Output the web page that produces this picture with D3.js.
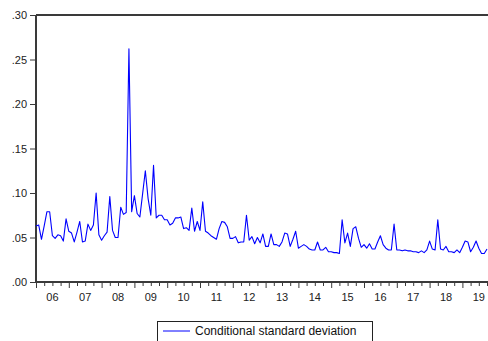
<!DOCTYPE html>
<html>
<head>
<meta charset="utf-8">
<script src="https://cdn.jsdelivr.net/npm/d3@7"></script>
<style>
  body { margin: 0; background: #fff; }
  svg { display: block; }
</style>
</head>
<body>
<svg id="chart" width="488" height="341"></svg>
<script>
// ============= Data =============
const START_YEAR = 2006;
// monthly conditional standard deviation, 2006M01 onwards
const sdValues = [
  0.063, 0.064, 0.048, 0.063, 0.079, 0.079, 0.052, 0.049, 0.053, 0.052, 0.046, 0.071,
  0.057, 0.055, 0.045, 0.056, 0.068, 0.045, 0.046, 0.065, 0.058, 0.064, 0.100, 0.053,
  0.047, 0.052, 0.056, 0.096, 0.058, 0.050, 0.050, 0.084, 0.076, 0.078, 0.262, 0.079,
  0.097, 0.077, 0.073, 0.099, 0.125, 0.094, 0.075, 0.131, 0.072, 0.075, 0.075, 0.070,
  0.070, 0.064, 0.066, 0.072, 0.072, 0.073, 0.060, 0.061, 0.058, 0.083, 0.057, 0.068,
  0.058, 0.090, 0.057, 0.055, 0.052, 0.050, 0.048, 0.060, 0.068, 0.067, 0.062, 0.049,
  0.049, 0.051, 0.044, 0.045, 0.045, 0.075, 0.047, 0.051, 0.043, 0.050, 0.044, 0.054,
  0.040, 0.040, 0.054, 0.042, 0.042, 0.040, 0.045, 0.055, 0.054, 0.040, 0.048, 0.057,
  0.038, 0.040, 0.042, 0.040, 0.037, 0.036, 0.036, 0.045, 0.036, 0.036, 0.039, 0.034,
  0.034, 0.033, 0.033, 0.032, 0.070, 0.044, 0.055, 0.040, 0.060, 0.062, 0.049, 0.039,
  0.042, 0.038, 0.043, 0.037, 0.037, 0.045, 0.052, 0.042, 0.038, 0.036, 0.036, 0.065,
  0.036, 0.036, 0.035, 0.036, 0.035, 0.035, 0.034, 0.034, 0.033, 0.035, 0.033, 0.036,
  0.046, 0.037, 0.036, 0.070, 0.037, 0.036, 0.040, 0.034, 0.034, 0.033, 0.036, 0.033,
  0.039, 0.046, 0.045, 0.034, 0.039, 0.046, 0.038, 0.032, 0.032, 0.037,
];
const yTicks = [0, 0.05, 0.10, 0.15, 0.20, 0.25, 0.30];
const yearLabels = ["06", "07", "08", "09", "10", "11", "12", "13", "14", "15", "16", "17", "18", "19"];
const legendLabel = "Conditional standard deviation";

// ============= Constants =============
const AXIS_COLOR = "#3a3a3a";
const LINE_COLOR = "#0000ff";
const FONT = "'Liberation Sans', Arial, sans-serif";
const FONT_SIZE = "11px";
const PLOT = { LEFT: 36, RIGHT: 488, TOP: 15, BOTTOM: 282 };
const YEAR_WIDTH = 32.8;

const svg = d3.select("#chart");

const points = sdValues.map((v, i) => ({ t: START_YEAR + i / 12, value: v }));

const xScale = d3
  .scaleLinear()
  .domain([START_YEAR, START_YEAR + (PLOT.RIGHT - PLOT.LEFT) / YEAR_WIDTH])
  .range([PLOT.LEFT, PLOT.RIGHT]);
const yScale = d3.scaleLinear().domain([0, 0.3]).range([PLOT.BOTTOM, PLOT.TOP]);

// ============= Frame =============
const frame = svg.append("g").attr("stroke", AXIS_COLOR).attr("fill", "none");
frame.append("line")
  .attr("x1", PLOT.LEFT).attr("x2", PLOT.RIGHT)
  .attr("y1", PLOT.TOP).attr("y2", PLOT.TOP)
  .attr("stroke-width", 2);

// Y axis
const yAxis = svg
  .append("g")
  .attr("transform", `translate(${PLOT.LEFT},0)`)
  .call(d3.axisLeft(yScale).tickValues(yTicks).tickSize(6).tickPadding(3)
    .tickFormat((d) => d3.format(".2f")(d).replace(/^0/, "")));

// X axis: quarterly ticks, longer at year starts
const quarters = d3.range(START_YEAR * 4, 2020 * 4).map((q) => q / 4);
const xAxis = svg
  .append("g")
  .attr("transform", `translate(0,${PLOT.BOTTOM})`)
  .call(d3.axisBottom(xScale).tickValues(quarters).tickSize(4).tickFormat(""));
xAxis.selectAll(".tick line")
  .attr("y2", (d) => (Number.isInteger(d) ? 6 : 4));

[xAxis, yAxis].forEach((axis) => {
  axis.select(".domain").attr("stroke", AXIS_COLOR).attr("stroke-width", 2);
  axis.selectAll(".tick line").attr("stroke", AXIS_COLOR).attr("stroke-width", 1);
  axis.selectAll("text").style("font-family", FONT).style("font-size", FONT_SIZE).style("fill", "#222");
});
yAxis.select(".domain").attr("d", `M0,${PLOT.TOP}V${PLOT.BOTTOM}`);
xAxis.select(".domain").attr("d", `M${PLOT.LEFT},0H${PLOT.RIGHT}`);

// Year labels centred in each year
svg.append("g")
  .selectAll("text")
  .data(yearLabels)
  .enter()
  .append("text")
  .attr("x", (d, i) => xScale(START_YEAR + i + 0.5))
  .attr("y", PLOT.BOTTOM + 19)
  .attr("text-anchor", "middle")
  .style("font-family", FONT)
  .style("font-size", FONT_SIZE)
  .style("fill", "#222")
  .text((d) => d);

// ============= Series =============
const line = d3.line().x((d) => xScale(d.t)).y((d) => yScale(d.value));
svg.append("path")
  .datum(points)
  .attr("d", line)
  .attr("fill", "none")
  .attr("stroke", LINE_COLOR)
  .attr("stroke-width", 1.1)
  .attr("stroke-linejoin", "round");

// ============= Legend =============
const legend = svg.append("g").attr("transform", "translate(157,321)");
legend.append("rect")
  .attr("x", 0.5).attr("y", 0.5)
  .attr("width", 215).attr("height", 24)
  .attr("fill", "#fff")
  .attr("stroke", "#222");
legend.append("line")
  .attr("x1", 6).attr("x2", 33)
  .attr("y1", 10).attr("y2", 10)
  .attr("stroke", LINE_COLOR);
legend.append("text")
  .attr("x", 38).attr("y", 14)
  .style("font-family", FONT)
  .style("font-size", "12px")
  .style("fill", "#111")
  .text(legendLabel);
</script>
</body>
</html>
